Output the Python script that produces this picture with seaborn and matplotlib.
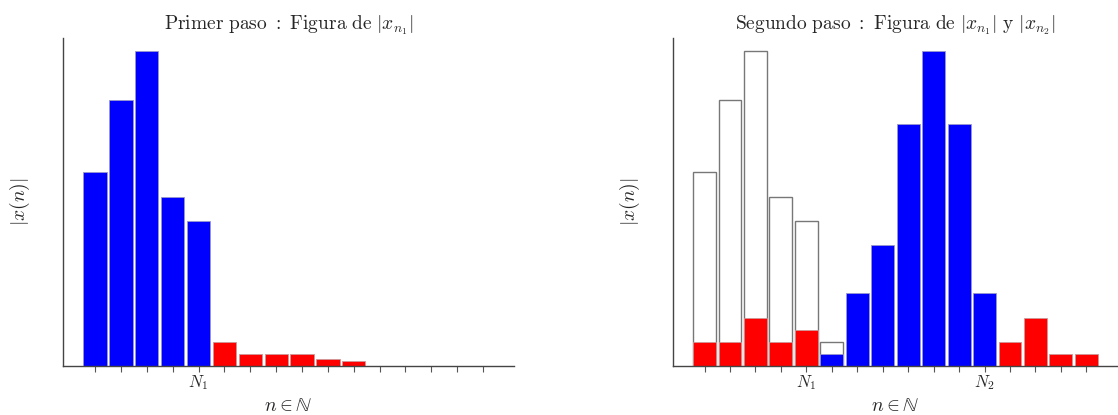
import matplotlib
matplotlib.use("Agg")
import matplotlib.pyplot as plt
import seaborn as sns
import pandas as pd
import numpy as np

### Data (bar heights in arbitrary units)

positions = list(range(1, 17))

# first step: |x_{n1}|
left_blue_n = [1, 2, 3, 4, 5]
left_blue_h = [8, 11, 13, 7, 6]
left_red_n = [6, 7, 8, 9, 10, 11]
left_red_h = [1, 0.5, 0.5, 0.5, 0.3, 0.2]

# second step: |x_{n1}| (outline) and |x_{n2}|
outline_n = [1, 2, 3, 4, 5, 6]
outline_h = [8, 11, 13, 7, 6, 1]
right_red_n = [1, 2, 3, 4, 5, 13, 14, 15, 16]
right_red_h = [1, 1, 2, 1, 1.5, 1, 2, 0.5, 0.5]
right_blue_n = [6, 7, 8, 9, 10, 11, 12]
right_blue_h = [0.5, 3, 5, 10, 13, 10, 3]

tick_labels_left = {5: r"$N_1$"}
tick_labels_right = {5: r"$N_1$", 12: r"$N_2$"}

titles = [r"$\mathrm{Primer\ paso\ :\ Figura\ de\ }|x_{n_1}|$",
          r"$\mathrm{Segundo\ paso\ :\ Figura\ de\ }|x_{n_1}|\mathrm{\ y\ }|x_{n_2}|$"]

####

sns.set_style("ticks")
plt.rcParams['mathtext.fontset'] = 'cm'
plt.rcParams['font.family'] = ['DejaVu Sans']

BLUE = '#0000FF'
RED = '#FF0000'


def bars(ax, n, h, color, edge, lw=0.6):
  df = pd.DataFrame({'n': n, 'h': h})
  sns.barplot(data=df, x='n', y='h', native_scale=True, width=0.9,
              color=color, edgecolor=edge, linewidth=lw, saturation=1,
              errorbar=None, ax=ax)


def style_axes(ax, labels, title):
  ax.set_xlim(-0.24, 17.2)
  ax.set_ylim(0, 13.55)
  ax.set_xticks(positions)
  ax.set_xticklabels([labels.get(p, "") for p in positions], fontsize=12)
  ax.set_yticks([])
  ax.tick_params(axis='x', direction='out', length=4, width=0.8, color='#555555', pad=1)
  for side in ['top', 'right']:
    ax.spines[side].set_visible(False)
  for side in ['left', 'bottom']:
    ax.spines[side].set_color('#444444')
    ax.spines[side].set_linewidth(1.0)
  ax.set_xlabel(r"$n\in\mathbb{N}$", fontsize=14)
  ax.xaxis.set_label_coords(0.5, -0.119)
  ax.xaxis.label.set_va('center')
  ax.set_ylabel(r"$|x(n)|$", fontsize=14)
  ax.yaxis.set_label_coords(-0.095, 0.5)
  ax.yaxis.label.set_va('center')
  ax.set_title(title, fontsize=14, pad=6)


fig = plt.figure(figsize=(11.18, 4.15), dpi=100)
ax1 = fig.add_axes([0.0564, 0.118, 0.4034, 0.790])
ax2 = fig.add_axes([0.602, 0.118, 0.397, 0.790])

bars(ax1, left_blue_n, left_blue_h, BLUE, '#9999cc')
bars(ax1, left_red_n, left_red_h, RED, '#cc9999')
style_axes(ax1, tick_labels_left, titles[0])

bars(ax2, outline_n, outline_h, 'white', '#777777', lw=1.0)
bars(ax2, right_red_n, right_red_h, RED, '#cc9999')
bars(ax2, right_blue_n, right_blue_h, BLUE, '#9999cc')
style_axes(ax2, tick_labels_right, titles[1])
ax2.yaxis.set_label_coords(-0.097, 0.5)

fig.savefig("out.png", dpi=100)
